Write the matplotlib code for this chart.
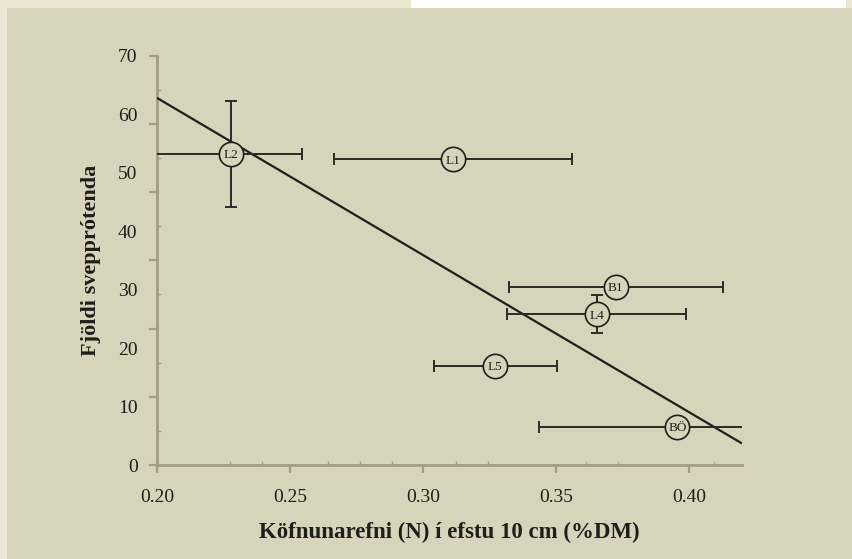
import numpy as np
import matplotlib
matplotlib.use("Agg")
import matplotlib.pyplot as plt
from matplotlib.patches import Rectangle
from matplotlib.ticker import FixedLocator, NullFormatter

# Sites, soil nitrogen (% DM, top 10 cm) and number of fungal species
sites = ["L2", "L1", "B1", "L4", "L5", "BÖ"]
nitrogen = [0.2278, 0.3113, 0.3725, 0.3653, 0.3272, 0.3957]
nitrogen_err_low = [0.0300, 0.0448, 0.0402, 0.0336, 0.0232, 0.0521]
nitrogen_err_high = [0.0267, 0.0448, 0.0402, 0.0336, 0.0232, 0.0521]
species = [53.2, 52.3, 30.5, 25.8, 17.0, 6.5]
species_err = [9.0, 0.0, 0.0, 3.3, 0.0, 0.0]

# Fitted trend: species = intercept + slope * N
trend_slope = -268.6
trend_intercept = 116.5

x_ticks = [0.20, 0.25, 0.30, 0.35, 0.40]
x_tick_labels = ["0.20", "0.25", "0.30", "0.35", "0.40"]
y_ticks = [0, 10, 20, 30, 40, 50, 60, 70]
y_tick_labels = ["0", "10", "20", "30", "40", "50", "60", "70"]

W, H = 853, 559
panel = "#D7D4BB"
cream = "#ECE6D2"
axis_col = "#A39C85"
ink = "#1E1E1A"
serif = ["Liberation Serif", "DejaVu Serif"]

fig = plt.figure(figsize=(W / 100, H / 100), dpi=100)
fig.patch.set_facecolor(cream)
fig.add_artist(Rectangle((7 / W, 0), 1 - 7 / W, 1 - 8 / H, transform=fig.transFigure,
                         facecolor=panel, edgecolor="none", zorder=0))
fig.add_artist(Rectangle((411 / W, 1 - 7.5 / H), (846 - 411) / W, 7.5 / H,
                         transform=fig.transFigure, facecolor="white",
                         edgecolor="none", zorder=0))

ax = fig.add_axes([157 / W, 1 - 465 / H, (742 - 157) / W, (465 - 55.7) / H])
ax.set_facecolor("none")
ax.set_xlim(0.20, 0.42)
ax.set_ylim(0, 70)

for side in ("top", "right"):
    ax.spines[side].set_visible(False)
for side in ("left", "bottom"):
    ax.spines[side].set_color(axis_col)
    ax.spines[side].set_linewidth(2.0)

# x axis: labelled major ticks plus faint inner minor ticks
ax.set_xticks(x_ticks)
ax.set_xticklabels(x_tick_labels, family=serif, fontsize=14, color=ink)
ax.xaxis.set_minor_locator(FixedLocator(
    [0.2274, 0.2395, 0.2643, 0.2763, 0.2883, 0.3124, 0.3244, 0.3613, 0.3733, 0.4094]))
ax.tick_params(axis="x", which="major", length=6, width=1.6, color=axis_col,
               direction="out", pad=11)
ax.tick_params(axis="x", which="minor", length=3, width=1.0, color=axis_col,
               direction="in")

# y axis: labels every 10, tick marks on a separate scale
ax.set_yticks(y_ticks)
ax.set_yticklabels(y_tick_labels, family=serif, fontsize=14, color=ink)
ax.tick_params(axis="y", which="major", length=0, pad=14)

sec = ax.secondary_yaxis("left")
sec.spines["left"].set_visible(False)
sec.set_yticks(np.linspace(0, 70, 7))
sec.yaxis.set_major_formatter(NullFormatter())
sec.yaxis.set_minor_locator(FixedLocator(np.linspace(0, 70, 13)[1::2]))
sec.yaxis.set_minor_formatter(NullFormatter())
sec.tick_params(which="major", length=6, width=1.6, color=axis_col, direction="out")
sec.tick_params(which="minor", length=3, width=1.0, color=axis_col, direction="in")

# trend line
x_line = np.array([0.20, 0.42])
ax.plot(x_line, trend_intercept + trend_slope * x_line, color=ink, lw=1.6,
        zorder=3, solid_capstyle="butt")

# error bars
ax.errorbar(nitrogen, species,
            xerr=[nitrogen_err_low, nitrogen_err_high],
            yerr=[[e if e > 0 else np.nan for e in species_err],
                  [e if e > 0 else np.nan for e in species_err]],
            fmt="none", ecolor="#2A2A26", elinewidth=1.4, capsize=4.2,
            capthick=1.4, zorder=4)

# circled site markers
ax.scatter(nitrogen, species, s=17.5 ** 2, facecolor=panel, edgecolor=ink,
           linewidth=1.2, zorder=5)
for name, xv, yv in zip(sites, nitrogen, species):
    ax.text(xv, yv, name, ha="center", va="center_baseline", fontsize=9.5,
            family=serif, color=ink, zorder=6)

ax.set_xlabel("Köfnunarefni (N) í efstu 10 cm (%DM)", family=serif,
              fontsize=16.5, fontweight="bold", color=ink, labelpad=12)
ax.set_ylabel("Fjöldi svepprótenda", family=serif, fontsize=16,
              fontweight="bold", color=ink, labelpad=12)

fig.savefig("out.png", dpi=100, facecolor=fig.get_facecolor())
